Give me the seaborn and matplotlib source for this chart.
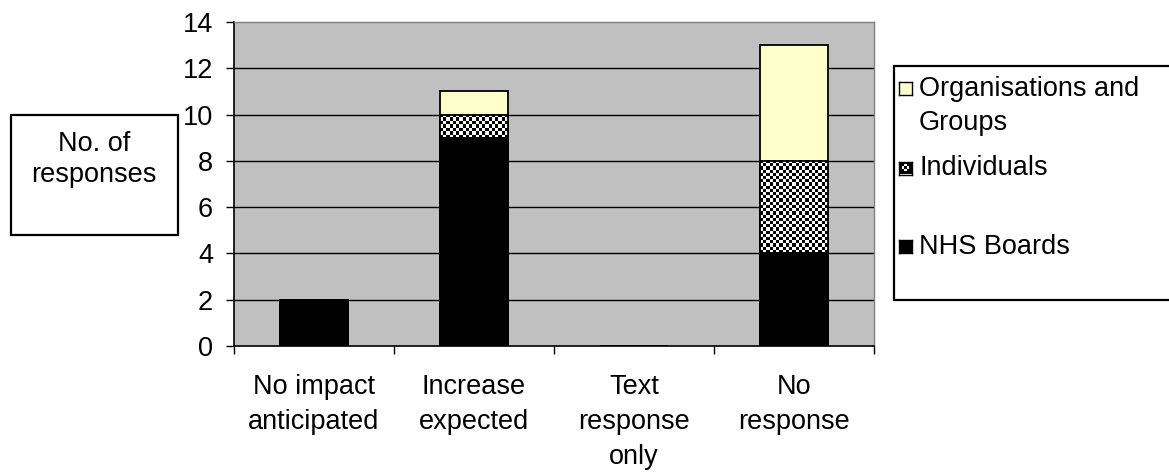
import numpy as np
import pandas as pd
import matplotlib
matplotlib.use("Agg")
import matplotlib.pyplot as plt
from matplotlib.patches import Rectangle
import seaborn as sns

# Response counts per answer category, split by respondent type
categories = ["No impact\nanticipated", "Increase\nexpected", "Text\nresponse\nonly", "No\nresponse"]
nhs_boards = [2, 9, 0, 4]
individuals = [0, 1, 0, 4]
organisations = [0, 1, 0, 5]
y_ticks = [0, 2, 4, 6, 8, 10, 12, 14]
legend_labels = ["Organisations and\nGroups", "Individuals", "NHS Boards"]
y_title = "No. of\nresponses"

ORG_COLOR = "#FFFFCC"
PLOT_BG = "#C0C0C0"
FONT = 19.5
LS = 1.44

sns.set_style("white")
plt.rcParams["font.family"] = ["Liberation Sans", "DejaVu Sans"]
plt.rcParams["text.color"] = "black"
plt.rcParams["xtick.color"] = "black"
plt.rcParams["ytick.color"] = "black"

df = pd.DataFrame({
    "category": categories,
    "nhs": nhs_boards,
    "ind": individuals,
    "org": organisations,
})
df["nhs_ind"] = df["nhs"] + df["ind"]
df["total"] = df["nhs_ind"] + df["org"]

W, H = 1169, 473
fig = plt.figure(figsize=(W / 100, H / 100), dpi=100)
fig.patch.set_facecolor("white")
ax = fig.add_axes([234 / W, 1 - 346 / H, 640 / W, 324 / H])
ax.set_facecolor(PLOT_BG)

bar_kw = dict(x="category", order=categories, width=0.42, saturation=1,
              edgecolor="black", linewidth=1.3, errorbar=None, ax=ax)

# Stacked bars: draw cumulative totals from the top segment down
sns.barplot(data=df, y="total", color=ORG_COLOR, zorder=3, **bar_kw)
sns.barplot(data=df, y="nhs_ind", color="black", zorder=4, **bar_kw)
ind_bars = ax.containers[-1]

ax.set_xlim(-0.5, 3.5)
ax.set_ylim(0, 14)

# Checkered fill for the "Individuals" segment
px_per_unit_y = 324 / 14.0
px_per_unit_x = 640 / 4.0
for patch, lo, hi in zip(ind_bars.patches, df["nhs"], df["nhs_ind"]):
    if hi <= lo:
        continue
    x0 = patch.get_x()
    w = patch.get_width()
    nx = max(2, int(round(w * px_per_unit_x / 3.2)))
    ny = max(2, int(round((hi - lo) * px_per_unit_y / 3.2)))
    board = (np.indices((ny, nx)).sum(axis=0) % 2).astype(float)
    ax.imshow(board, cmap="gray", vmin=0, vmax=1, interpolation="nearest",
              extent=(x0, x0 + w, lo, hi), aspect="auto", zorder=4.5)
    ax.add_patch(Rectangle((x0, lo), w, hi - lo, fill=False,
                           edgecolor="black", linewidth=1.3, zorder=4.6))

sns.barplot(data=df, y="nhs", color="black", zorder=5, **bar_kw)
ax.set_xlim(-0.5, 3.5)
ax.set_ylim(0, 14)
ax.set_xlabel("")
ax.set_ylabel("")

# Axes, ticks and gridlines
ax.set_yticks(y_ticks)
ax.set_yticklabels([str(v) for v in y_ticks], fontsize=FONT, color="black")
ax.tick_params(axis="y", direction="out", length=6, width=1, color="black", pad=9, left=True)
ax.set_xticks(range(len(categories)))
ax.set_xticklabels(categories, fontsize=FONT, linespacing=LS, va="top", color="black")
ax.tick_params(axis="x", which="major", length=0, pad=20.5)
ax.set_xticks(np.arange(-0.5, 4.0, 1.0), minor=True)
ax.tick_params(axis="x", which="minor", direction="out", length=6, width=1,
               color="black", bottom=True)
for y in y_ticks[1:-1]:
    ax.axhline(y, color="black", linewidth=1, zorder=1)
for side in ("left", "bottom"):
    ax.spines[side].set_color("black")
    ax.spines[side].set_linewidth(1.2)
for side in ("top", "right"):
    ax.spines[side].set_visible(True)
    ax.spines[side].set_color("#808080")
    ax.spines[side].set_linewidth(1)


def fx(px):
    return px / W


def fy(py):
    return 1 - py / H


# Boxed axis title
fig.patches.append(Rectangle((fx(11), fy(235)), fx(178) - fx(11), fy(115) - fy(235),
                             transform=fig.transFigure, facecolor="white",
                             edgecolor="black", linewidth=1.6, zorder=0))
fig.text(fx(94), fy(159), y_title, ha="center", va="center", fontsize=FONT,
         linespacing=1.25, color="black")

# Legend box
fig.patches.append(Rectangle((fx(894), fy(300)), fx(1200) - fx(894), fy(66) - fy(300),
                             transform=fig.transFigure, facecolor="white",
                             edgecolor="black", linewidth=1.6, zorder=0))
marker_centers = [89, 168, 247]
for label, cy, kind in zip(legend_labels, marker_centers, ["org", "ind", "nhs"]):
    mk = fig.add_axes([fx(899), fy(cy + 6.5), 13 / W, 13 / H], zorder=5)
    mk.set_xticks([])
    mk.set_yticks([])
    if kind == "org":
        mk.set_facecolor(ORG_COLOR)
    elif kind == "nhs":
        mk.set_facecolor("black")
    else:
        small = (np.indices((5, 5)).sum(axis=0) % 2).astype(float)
        small[0, :] = 0
        small[-1, :] = 0
        small[:, 0] = 0
        small[:, -1] = 0
        mk.imshow(small, cmap="gray", vmin=0, vmax=1, interpolation="nearest",
                  aspect="auto")
    for s in mk.spines.values():
        s.set_visible(True)
        s.set_color("black")
        s.set_linewidth(1)
    if "\n" in label:
        fig.text(fx(919), fy(cy + 17), label, ha="left", va="center", fontsize=FONT,
                 linespacing=1.4, color="black")
    else:
        fig.text(fx(919), fy(cy), label, ha="left", va="center", fontsize=FONT,
                 color="black")

fig.savefig("out.png", dpi=100, facecolor="white")
